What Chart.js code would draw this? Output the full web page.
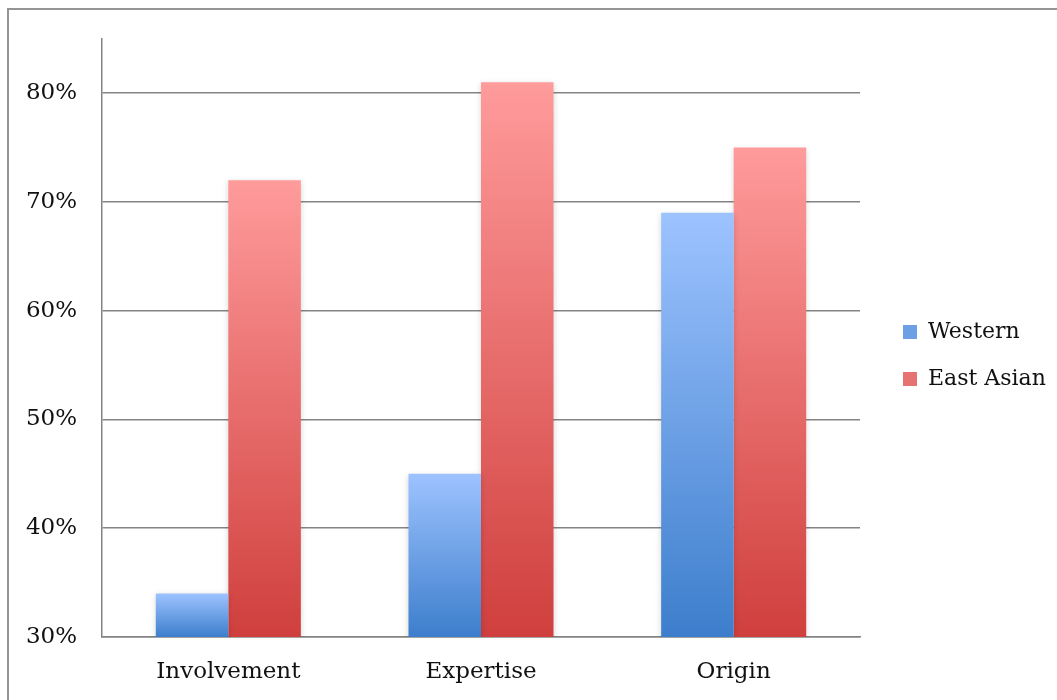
<!DOCTYPE html>
<html>
<head>
<meta charset="utf-8">
<title>Western vs East Asian</title>
<script src="https://cdn.jsdelivr.net/npm/chart.js@4.4.1/dist/chart.umd.min.js"></script>
<style>
  html, body { margin: 0; padding: 0; background: #fff; }
  #wrap { position: relative; width: 1057px; height: 700px; overflow: hidden; }
  #frame {
    position: absolute; left: 7px; top: 8px; width: 1200px; height: 800px;
    border-left: 2px solid #959595; border-top: 2px solid #959595;
  }
  #chart { position: absolute; left: 0; top: 0; }
</style>
</head>
<body>
<div id="wrap">
  <div id="frame"></div>
  <canvas id="chart" width="1057" height="700"></canvas>
</div>
<script>
// Share of respondents per attribution type, by cultural group
const categories = ['Involvement', 'Expertise', 'Origin'];
const westernValues = [34, 45, 69];
const eastAsianValues = [72, 81, 75];
const seriesNames = ['Western', 'East Asian'];
const yTickValues = [30, 40, 50, 60, 70, 80];

const FONT = "'DejaVu Serif', serif";
const GRID = '#848484';

// vertical gradient from the top of each bar down to its base
function barGradient(lightColor, darkColor) {
  return function (context) {
    const chart = context.chart;
    if (!chart.chartArea || context.type !== 'data') return darkColor;
    const y = chart.scales.y;
    const top = y.getPixelForValue(context.raw);
    const base = y.getPixelForValue(y.min);
    const g = chart.ctx.createLinearGradient(0, top, 0, base);
    g.addColorStop(0, lightColor);
    g.addColorStop(1, darkColor);
    return g;
  };
}

// soft drop shadow behind the bars
const barShadow = {
  id: 'barShadow',
  beforeDatasetsDraw(chart) {
    const c = chart.ctx;
    c.save();
    c.shadowColor = 'rgba(0,0,0,0.16)';
    c.shadowBlur = 6;
    c.shadowOffsetX = 0;
    c.shadowOffsetY = 2;
  },
  afterDatasetsDraw(chart) {
    chart.ctx.restore();
  }
};

// fixed legend column on the right of the plot
const legendPlacement = {
  id: 'legendPlacement',
  afterInit(chart) {
    const legend = chart.legend;
    const fit = legend.fit.bind(legend);
    legend.fit = function () { fit(); this.width = 197; };
  },
  afterLayout(chart) {
    const legend = chart.legend;
    legend.left += 18;
    legend.right += 18;
    legend.top -= 13;
    legend.bottom -= 13;
  }
};

const solidLegend = ['#6c9fe6', '#e77272'];

new Chart(document.getElementById('chart'), {
  type: 'bar',
  data: {
    labels: categories,
    datasets: [
      {
        label: seriesNames[0],
        data: westernValues,
        backgroundColor: barGradient('#9dc3ff', '#3d7ecc'),
        categoryPercentage: 0.574,
        barPercentage: 1.0
      },
      {
        label: seriesNames[1],
        data: eastAsianValues,
        backgroundColor: barGradient('#ff9b9b', '#cf3f3d'),
        categoryPercentage: 0.574,
        barPercentage: 1.0
      }
    ]
  },
  options: {
    responsive: false,
    animation: false,
    devicePixelRatio: 1,
    layout: { padding: { top: 37, left: 0, right: 0, bottom: 0 } },
    plugins: {
      tooltip: { enabled: false },
      legend: {
        position: 'right',
        align: 'center',
        labels: {
          font: { family: FONT, size: 22 },
          color: '#111',
          boxWidth: 14,
          boxHeight: 14,
          padding: 25,
          generateLabels(chart) {
            const items = Chart.defaults.plugins.legend.labels.generateLabels(chart);
            items.forEach((it, i) => {
              it.fillStyle = solidLegend[i];
              it.strokeStyle = 'rgba(0,0,0,0)';
              it.lineWidth = 0;
            });
            return items;
          }
        }
      }
    },
    scales: {
      x: {
        grid: { display: false },
        border: { display: true, color: GRID, width: 1.5 },
        ticks: {
          font: { family: FONT, size: 23 },
          color: '#111',
          padding: 13
        },
        afterFit(axis) { axis.height = 63; }
      },
      y: {
        min: 30,
        max: 85,
        ticks: {
          stepSize: 10,
          font: { family: FONT, size: 23 },
          color: '#111',
          padding: 25,
          callback: (v) => v + '%'
        },
        afterBuildTicks(axis) {
          axis.ticks = yTickValues.map(v => ({ value: v }));
        },
        grid: { color: GRID, lineWidth: 1.5, drawTicks: false },
        border: { display: true, color: GRID, width: 1.5 },
        afterFit(axis) { axis.width = 102; }
      }
    }
  },
  plugins: [barShadow, legendPlacement]
});
</script>
</body>
</html>
